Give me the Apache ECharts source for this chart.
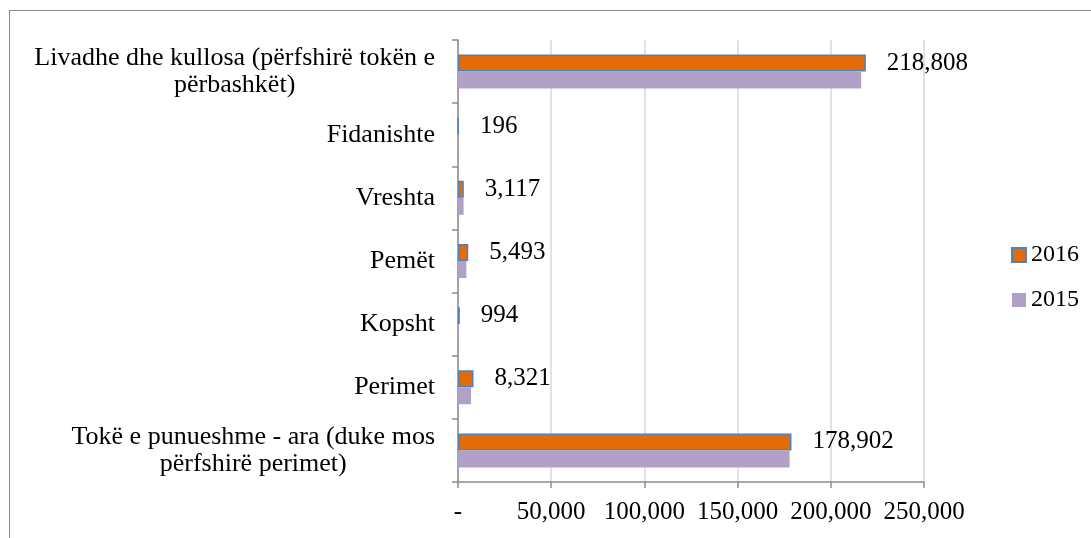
<!DOCTYPE html>
<html>
<head>
<meta charset="utf-8">
<script src="https://cdn.jsdelivr.net/npm/echarts@6/dist/echarts.min.js"></script>
<style>
html,body{margin:0;padding:0;background:#fff;}
#frame{position:absolute;left:9px;top:10px;width:1100px;height:560px;border:1.5px solid #8c8c8c;box-sizing:border-box;}
#chart{position:absolute;left:0;top:0;width:1091px;height:538px;}
</style>
</head>
<body>
<div id="frame"></div>
<div id="chart"></div>
<script>
// Categories listed bottom to top (as in the source spreadsheet)
const categories = [
  "Tokë e punueshme - ara (duke mos\npërfshirë perimet)",
  "Perimet",
  "Kopsht",
  "Pemët",
  "Vreshta",
  "Fidanishte",
  "Livadhe dhe kullosa (përfshirë tokën e\npërbashkët)"
];
const values2016 = [178902, 8321, 994, 5493, 3117, 196, 218808];
const values2015 = [177900, 7000, 300, 4500, 3000, 150, 216300];
const xTicks = [0, 50000, 100000, 150000, 200000, 250000];

const FONT = "'Liberation Serif', 'DejaVu Serif', serif";
const chart = echarts.init(document.getElementById('chart'));
function fmt(v){ return v === 0 ? '-' : v.toLocaleString('en-US'); }

chart.setOption({
  animation: false,
  textStyle: { fontFamily: FONT },
  grid: { left: 458, top: 40, right: 167, bottom: 56, containLabel: false },
  legend: {
    orient: 'vertical',
    left: 1011,
    top: 243,
    padding: 0,
    icon: 'rect',
    itemWidth: 14,
    itemHeight: 14,
    itemGap: 21,
    data: ['2016', '2015'],
    textStyle: { fontFamily: FONT, fontSize: 24, lineHeight: 24, color: '#000', padding: [0,0,0,0] }
  },
  xAxis: {
    type: 'value',
    min: xTicks[0],
    max: xTicks[xTicks.length - 1],
    interval: 50000,
    axisLine: { show: true, lineStyle: { color: '#8c8c8c', width: 1.5 } },
    axisTick: { show: true, length: 6, lineStyle: { color: '#8c8c8c', width: 1.5 } },
    axisLabel: { fontFamily: FONT, fontSize: 25, color: '#000', margin: 18, formatter: fmt },
    splitLine: { show: true, lineStyle: { color: '#d9d9d9', width: 1.5 } }
  },
  yAxis: {
    type: 'category',
    data: categories,
    axisLine: { show: true, lineStyle: { color: '#8c8c8c', width: 1.5 } },
    axisTick: { show: true, length: 6, lineStyle: { color: '#8c8c8c', width: 1.5 } },
    axisLabel: {
      fontFamily: FONT, fontSize: 26, color: '#000', margin: 23, align: 'right',
      lineHeight: 27,
      formatter: function (v) { return v.split('\n').map(s => '{c|' + s + '}').join('\n'); },
      rich: { c: { align: 'center', fontFamily: FONT, fontSize: 26, lineHeight: 27, color: '#000' } }
    }
  },
  series: [
    {
      name: '2016',
      type: 'bar',
      data: values2016,
      barWidth: 17,
      barGap: '0%',
      itemStyle: { color: '#e36c09', borderColor: '#4f81bd', borderWidth: 1.5 },
      label: {
        show: true, position: 'right', distance: 21,
        fontFamily: FONT, fontSize: 25, color: '#000',
        formatter: p => fmt(p.value)
      }
    },
    {
      name: '2015',
      type: 'bar',
      data: values2015,
      barWidth: 17,
      barGap: '0%',
      itemStyle: { color: '#b2a1c7' }
    }
  ]
});
</script>
</body>
</html>
